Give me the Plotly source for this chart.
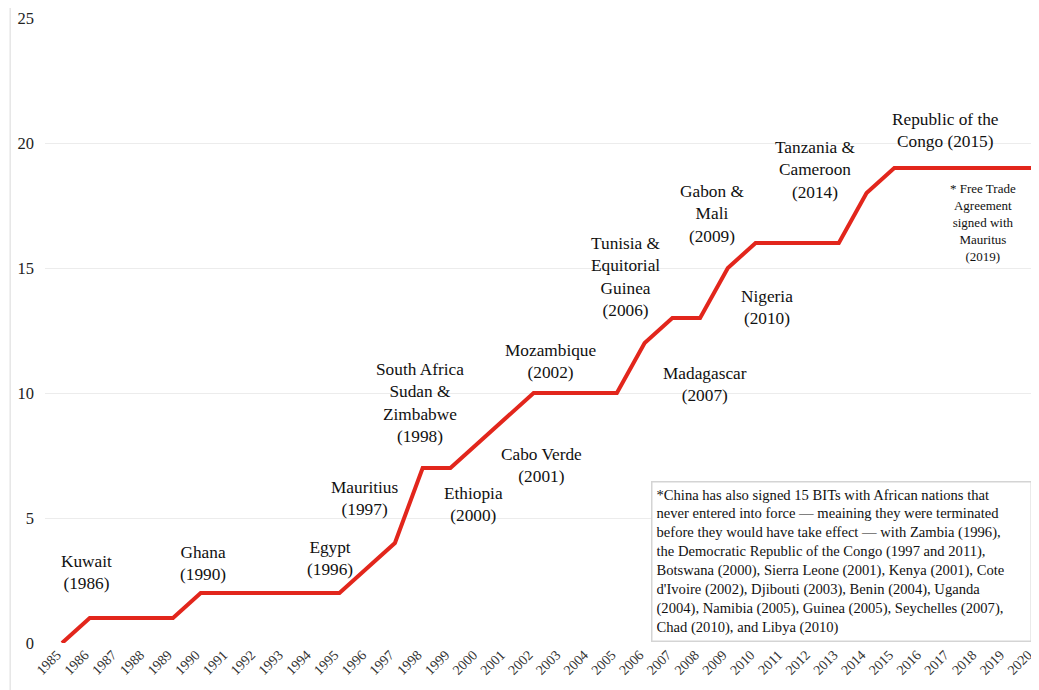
import plotly.graph_objects as go

# BITs in force with African countries, cumulative count per year
years = list(range(1985, 2021))
bits_total = [0, 1, 1, 1, 1, 2, 2, 2, 2, 2, 2, 3, 4, 7, 7, 8, 9, 10, 10, 10, 10,
              12, 13, 13, 15, 16, 16, 16, 16, 18, 19, 19, 19, 19, 19, 19]

# label text with its anchor year / level
label_text = ['Kuwait<br>(1986)', 'Ghana<br>(1990)', 'Egypt<br>(1996)', 'Mauritius<br>(1997)',
              'South Africa<br>Sudan &<br>Zimbabwe<br>(1998)', 'Ethiopia<br>(2000)',
              'Cabo Verde<br>(2001)', 'Mozambique<br>(2002)', 'Madagascar<br>(2007)',
              'Tunisia &<br>Equitorial<br>Guinea<br>(2006)', 'Nigeria<br>(2010)',
              'Gabon &<br>Mali<br>(2009)', 'Tanzania &<br>Cameroon<br>(2014)',
              'Republic of the<br>Congo (2015)']
label_x = [1985.9, 1990.08, 1994.66, 1995.89, 1997.9, 1999.85, 2002.3, 2002.63, 2008.18,
           2005.33, 2010.41, 2008.43, 2012.15, 2016.83]
label_y = [2.84, 3.2, 3.4, 5.8, 9.6, 5.56, 7.12, 11.28, 10.36, 14.64, 13.44, 17.16, 18.92, 20.52]

fta_note = '* Free Trade<br>Agreement<br>signed with<br>Mauritus<br>(2019)'

box_note = ('*China has also signed 15 BITs with African nations that<br>'
            'never entered into force \u2014 meaining they were terminated<br>'
            'before they would have take effect \u2014 with Zambia (1996),<br>'
            'the Democratic Republic of the Congo (1997 and 2011),<br>'
            'Botswana (2000), Sierra Leone (2001), Kenya (2001), Cote<br>'
            "d'Ivoire (2002), Djibouti (2003), Benin (2004), Uganda<br>"
            '(2004), Namibia (2005), Guinea (2005), Seychelles (2007),<br>'
            'Chad (2010), and Libya (2010)')

serif = 'Liberation Serif'

fig = go.Figure()
fig.add_trace(go.Scatter(x=years, y=bits_total, mode='lines',
                         line=dict(color='#e2261c', width=4), cliponaxis=False,
                         showlegend=False, hoverinfo='x+y'))

for t, x, y in zip(label_text, label_x, label_y):
    fig.add_annotation(x=x, y=y, text=t, showarrow=False,
                       font=dict(family=serif, size=17.3, color='#111111'))

fig.add_annotation(x=2018.2, y=16.84, text=fta_note, showarrow=False,
                   font=dict(family=serif, size=13, color='#111111'))

fig.add_annotation(x=2006.23, y=0.04, xanchor='left', yanchor='bottom', text=box_note,
                   showarrow=False, align='left', bgcolor='white', width=370,
                   bordercolor='#d4d4d4', borderwidth=1.5, borderpad=4,
                   font=dict(family=serif, size=14.6, color='#111111'))

# faint frame line at the left edge
fig.add_shape(type='line', xref='paper', yref='paper', x0=-0.035, x1=-0.035, y0=-0.08, y1=1.02,
              line=dict(color='#e6e6e6', width=1.5))

fig.update_layout(
    width=1031,   # page body adds 8px, keep plot where the reference has it
    height=682,
    margin=dict(l=37, r=0, t=10, b=47),
    paper_bgcolor='white',
    plot_bgcolor='white',
    font=dict(family=serif),
    xaxis=dict(range=[1984.387, 2020.216], tickmode='array', tickvals=years,
               ticktext=[str(y) for y in years], tickangle=-45, showgrid=False,
               zeroline=False, showline=False, automargin=False,
               ticklabeloverflow='allow', ticklabelshift=-5,
               tickfont=dict(family=serif, size=14, color='#333333')),
    yaxis=dict(range=[0, 25], tickvals=[0, 5, 10, 15, 20, 25], showgrid=True,
               gridcolor='#ececec', gridwidth=1, zeroline=False, showline=False,
               ticklabelstandoff=10, automargin=False,
               tickfont=dict(family=serif, size=16.5, color='#222222')),
)

fig.write_html("out.html")
